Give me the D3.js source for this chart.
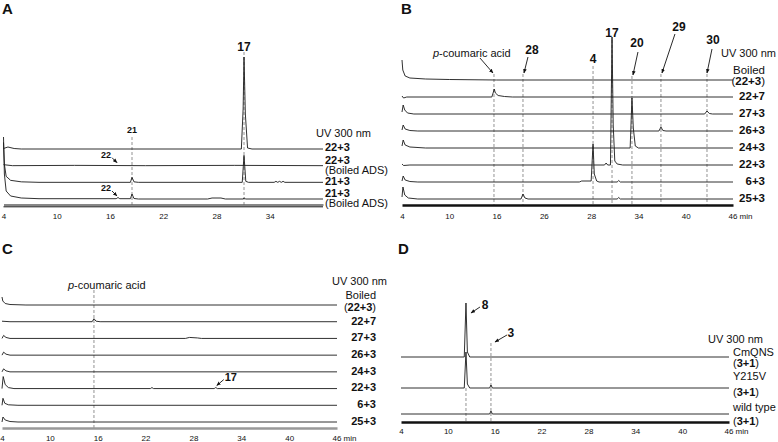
<!DOCTYPE html>
<html>
<head>
<meta charset="utf-8">
<script src="https://cdn.jsdelivr.net/npm/d3@7"></script>
<style>
  body { margin: 0; background: #fff; }
  text { font-family: "Liberation Sans", Arial, sans-serif; fill: #111; }
</style>
</head>
<body>
<div id="fig"></div>
<script>
// ---- data (time in min, signal in arbitrary units) ----
const ticksA = [4, 10, 16, 22, 28, 34];
const tickLabelsA = ["4", "10", "16", "22", "28", "34"];
const ticksBCD = [4, 10, 16, 22, 28, 34, 40, 46];
const tickLabelsB = ["4", "10", "16", "26", "28", "34", "40", "46 min"];
const tickLabelsCD = ["4", "10", "16", "22", "28", "34", "40", "46 min"];

// sample names, "|" splits lines, *...* is bold
const samplesA = ["*22+3*", "*22+3*|(Boiled ADS)", "*21+3*", "*21+3*|(Boiled ADS)"];
const samplesBC = ["Boiled|(*22+3*)", "*22+7*", "*27+3*", "*26+3*", "*24+3*", "*22+3*", "*6+3*", "*25+3*"];
const samplesD = ["CmQNS|(*3+1*)", "Y215V|(*3+1*)", "wild type|(*3+1*)"];

const signalsA = [
  [[4,0.5],[4.5,2],[5.2,0.5],[6,0],[30.8,0],[31.0,40],[31.1,92],[31.25,35],[31.5,1],[32,0],[40,0]],
  [[4,1],[5,0],[12,0.3],[20,0],[30,0.3],[40,0]],
  [[4,40],[4.1,18],[4.3,6],[4.8,2],[6,0.5],[8,0],[18.3,0],[18.48,5],[18.7,0.5],[19.2,0],[30.9,0],[31.1,27],[31.3,1],[31.6,0],
   [34.5,0],[34.7,1],[34.9,0],[35.1,1],[35.3,0],[35.5,1],[35.7,0],[40,0]],
  [[4,62],[4.1,25],[4.3,8],[4.8,3],[6,1],[8,0.3],[16.7,0.3],[16.9,1.5],[17.1,0.3],[18.3,0.3],[18.48,5],[18.7,0.5],[19.2,0],
   [27,0],[27.5,1],[28.5,1],[29,0],[31,0],[31.1,1],[31.3,0],[40,0]]
];
const signalsB = [
  [[4,20],[4.1,10],[4.4,4],[5,2],[7,1],[10,0.5],[16,0],[46,0]],
  [[4,1],[4.2,-1],[4.6,0],[15.4,0],[15.6,5],[15.7,8],[15.85,4],[16.2,1.5],[17,0.5],[18,0],[46,0]],
  [[4,2],[4.15,9],[4.35,4],[4.7,1],[5.5,0],[42.4,0],[42.7,3],[43,0.5],[43.4,0],[46,0]],
  [[4,1],[4.15,6],[4.4,2],[5,0.5],[6,0],[36.6,0],[36.86,4],[37.1,0.5],[37.5,0],[46,0]],
  [[4,2],[4.15,8],[4.4,3],[5,1],[7,0],[32.95,0],[33.18,50],[33.35,20],[33.6,2],[34,0],[46,0]],
  [[4,1],[4.2,-0.5],[5,0],[29.7,0],[29.9,2],[30.1,0],[30.45,0],[30.65,128],[30.8,40],[31.0,4],[31.3,1],[32,0],[46,0]],
  [[4,1],[4.15,6],[4.4,2],[5,0.5],[6,0],[26.5,0],[26.8,1],[28.0,1],[28.24,38],[28.4,8],[28.7,1],[29,0],
   [31.3,0],[31.5,1.5],[31.7,0],[46,0]],
  [[4,2],[4.12,12],[4.35,4],[4.8,1],[6,0],[19.1,0],[19.35,5],[19.6,1],[20,0],[31.3,0],[31.5,1.5],[31.7,0],[46,0]]
];
const signalsC = [
  [[4,8],[4.1,4],[4.4,1.5],[5,0.5],[7,0],[46,0]],
  [[4,0.5],[5,0],[15.3,0],[15.53,3],[15.8,0.5],[16.3,0],[46,0]],
  [[4,0],[4.2,3],[4.5,1],[5,0],[27,0],[27.5,1],[28.5,0.5],[29,0],[46,0]],
  [[4,0],[4.2,3],[4.5,1],[5,0],[46,0]],
  [[4,0],[4.2,3],[4.5,1],[5,0],[46,0]],
  [[4,0],[4.15,12],[4.4,4],[4.8,1],[5.5,0],[22.6,0],[22.8,1],[23,0],[30.6,0],[30.8,1],[31,0],[46,0]],
  [[4,0],[4.12,7],[4.35,2],[4.8,0.5],[6,0],[46,0]],
  [[4,0],[4.12,5],[4.4,2],[5,0.5],[6,0],[46,0]]
];
const signalsD = [
  [[4,0],[12.1,0],[12.32,54],[12.5,5],[12.8,0],[46,0]],
  [[4,0],[12.1,0],[12.32,36],[12.5,4],[12.8,0],[15.35,0],[15.52,3],[15.7,0],[46,0]],
  [[4,0],[15.35,0],[15.52,3],[15.7,0],[46,0]]
];

// marked peaks (retention times)
const marksA = [18.48, 31.1];
const marksB = [15.67, 19.35, 28.24, 30.65, 33.18, 36.86, 42.7];
const marksC = [15.53, 30.8];
const marksD = [12.32, 15.52];

// ---- drawing ----
const svg = d3.select("#fig").append("svg")
  .attr("width", 778).attr("height", 442);

svg.append("defs").append("marker")
  .attr("id", "ah").attr("viewBox", "0 0 10 10")
  .attr("refX", 9).attr("refY", 5)
  .attr("markerWidth", 5).attr("markerHeight", 5)
  .attr("orient", "auto")
  .append("path").attr("d", "M0,1 L10,5 L0,9 Z").attr("fill", "#111");

function richText(g, str, x, y, anchor, size) {
  const t = g.append("text").attr("x", x).attr("y", y).attr("dy", "0.35em")
    .attr("text-anchor", anchor).style("font-size", size + "px");
  str.split("*").forEach((s, i) => {
    if (s) t.append("tspan").attr("font-weight", i % 2 ? "bold" : "normal").text(s);
  });
  return t;
}

function panel(cfg) {
  const g = svg.append("g");
  const x = d3.scaleLinear().domain(cfg.domain).range(cfg.range);
  const y = cfg.baselines.length === cfg.names.length
    ? d3.scaleOrdinal().domain(cfg.names).range(cfg.baselines)
    : d3.scalePoint().domain(cfg.names).range(cfg.baselines);
  const amp = d3.scaleLinear().domain([0, 100]).range([0, 100]);

  // dashed marker lines
  cfg.marks.forEach((m, i) => {
    if (cfg.dashTop[i] == null) return;
    g.append("line")
      .attr("x1", x(m)).attr("x2", x(m))
      .attr("y1", cfg.dashTop[i]).attr("y2", cfg.axisY)
      .attr("stroke", "#777").attr("stroke-width", 0.8)
      .attr("stroke-dasharray", "3,2");
  });

  // traces
  cfg.names.forEach((n, i) => {
    const base = y(n);
    const line = d3.line().x(d => x(d[0])).y(d => base - amp(d[1]));
    g.append("path").datum(cfg.signals[i])
      .attr("d", line).attr("fill", "none")
      .attr("stroke", "#1a1a1a").attr("stroke-width", 0.9);

    const lines = n.split("|");
    const offs = lines.length > 1 ? (cfg.dy2[i] && cfg.dy2[i].length ? cfg.dy2[i] : cfg.dy2) : [cfg.dy1];
    lines.forEach((l, j) => richText(g, l, cfg.labelX, base + offs[j], cfg.anchor, cfg.fs || 11.5));
  });

  // axis
  const ax = g.append("g")
    .attr("transform", `translate(0,${cfg.axisY})`)
    .call(d3.axisBottom(x).tickValues(cfg.ticks).tickSize(0).tickSizeOuter(0)
      .tickPadding(cfg.pad).tickFormat((d, i) => cfg.tickLabels[i]));
  ax.select(".domain").attr("stroke", cfg.axisColor).attr("stroke-width", cfg.axisWidth);
  ax.selectAll(".tick text")
    .style("font-size", "8px").style("font-family", "Liberation Sans, Arial, sans-serif")
    .attr("fill", "#333");
  ax.selectAll(".tick text").filter(function() { return this.textContent.indexOf("min") > 0; })
    .attr("text-anchor", "start").attr("dx", -5);

  // UV label and panel letter
  g.append("text").attr("x", cfg.uv[0]).attr("y", cfg.uv[1]).attr("dy", "0.35em")
    .attr("text-anchor", cfg.uvAnchor).style("font-size", "11px").text("UV 300 nm");
  g.append("text").attr("x", cfg.letter[1]).attr("y", cfg.letter[2])
    .style("font-size", "15px").style("font-weight", "bold").text(cfg.letter[0]);

  return { g, x, y };
}

function arrow(g, x1, y1, x2, y2) {
  g.append("line").attr("x1", x1).attr("y1", y1).attr("x2", x2).attr("y2", y2)
    .attr("stroke", "#111").attr("stroke-width", 0.9).attr("marker-end", "url(#ah)");
}
function label(g, txt, x, y, size, bold, anchor) {
  return g.append("text").attr("x", x).attr("y", y).attr("dy", "0.35em")
    .attr("text-anchor", anchor || "middle").style("font-size", size + "px")
    .style("font-weight", bold ? "bold" : "normal").text(txt);
}
function coumaric(g, x, y) {
  const t = g.append("text").attr("x", x).attr("y", y).attr("dy", "0.35em").style("font-size", "11px");
  t.append("tspan").style("font-style", "italic").text("p");
  t.append("tspan").text("-coumaric acid");
}

// Panel A
const A = panel({
  names: samplesA, signals: signalsA, domain: [4, 40], range: [3.5, 323],
  baselines: [149, 199], axisY: 204.5, ticks: ticksA, tickLabels: tickLabelsA, pad: 9,
  axisColor: "#111", axisWidth: 1, labelX: 325, anchor: "start", dy1: -1.5, dy2: [-6, 4.5],
  uv: [316, 133], uvAnchor: "start", letter: ["A", 2, 14], fs: 11,
  marks: marksA, dashTop: [137, 52]
});
A.g.append("line").attr("x1", A.x(4)).attr("x2", A.x(40)).attr("y1", 206.8).attr("y2", 206.8)
  .attr("stroke", "#111").attr("stroke-width", 1);
label(A.g, "21", A.x(marksA[0]), 130, 9, true);
label(A.g, "17", A.x(marksA[1]), 47, 12, true);
[1, 3].forEach(i => {
  const b = A.y(samplesA[i]), xa = A.x(16.9);
  label(A.g, "22", xa - 12, b - 11, 9, true);
  arrow(A.g, xa - 6, b - 8, xa - 1, b - 3);
});

// Panel B
const B = panel({
  names: samplesBC, signals: signalsB, domain: [4, 46], range: [402, 733],
  baselines: [80, 199], axisY: 205, ticks: ticksBCD, tickLabels: tickLabelsB, pad: 8,
  axisColor: "#111", axisWidth: 2.5, labelX: 765, anchor: "end", dy1: -1, dy2: [-10, 1],
  uv: [776, 53], uvAnchor: "end", letter: ["B", 401, 14],
  marks: marksB, dashTop: [74, 74, 66, 40, 76, 74, 74]
});
{
  const xm = marksB.map(B.x);
  coumaric(B.g, xm[0] - 61, 53);
  arrow(B.g, xm[0] - 14, 58, xm[0] - 1, 73);
  label(B.g, "28", xm[1] + 9, 50, 12, true);
  arrow(B.g, xm[1] + 5, 57, xm[1] + 1, 73);
  label(B.g, "4", xm[2], 59, 12, true);
  label(B.g, "17", xm[3], 33, 12, true);
  label(B.g, "20", xm[4] + 5, 43, 12, true);
  arrow(B.g, xm[4] + 6, 52, xm[4] + 1, 75);
  label(B.g, "29", xm[5] + 18, 27, 12, true);
  arrow(B.g, xm[5] + 14, 34, xm[5] + 1, 73);
  label(B.g, "30", xm[6] + 6, 40, 12, true);
  arrow(B.g, xm[6] + 5, 49, xm[6], 73);
}

// Panel C
const C = panel({
  names: samplesBC, signals: signalsC, domain: [4, 46], range: [2, 337],
  baselines: [305, 422], axisY: 428, ticks: ticksBCD, tickLabels: tickLabelsCD, pad: 7,
  axisColor: "#999", axisWidth: 2.5, labelX: 376, anchor: "end", dy1: -1, dy2: [-9.5, 2],
  uv: [387, 281], uvAnchor: "end", letter: ["C", 2, 254], fs: 11,
  marks: marksC, dashTop: [290, null]
});
{
  const xm = C.x(marksC[1]), b = C.y(samplesBC[5]);
  coumaric(C.g, C.x(marksC[0]) - 26, 285);
  label(C.g, "17", xm + 15, b - 11, 11, true);
  arrow(C.g, xm + 8, b - 9, xm + 1, b - 3);
}

// Panel D
const D = panel({
  names: samplesD, signals: signalsD, domain: [4, 46], range: [401, 729],
  baselines: [357, 388, 414], axisY: 422, ticks: ticksBCD, tickLabels: tickLabelsCD, pad: 6,
  axisColor: "#111", axisWidth: 2.5, labelX: 733, anchor: "start", dy1: -1,
  dy2: [[-5, 6], [-12, 4], [-7, 7]],
  uv: [708, 339], uvAnchor: "start", letter: ["D", 398, 254], fs: 11,
  marks: marksD, dashTop: [388, 343]
});
{
  const x8 = D.x(marksD[0]), x3 = D.x(marksD[1]);
  label(D.g, "8", x8 + 19, 305, 12, true);
  arrow(D.g, x8 + 14, 307, x8 + 5, 313);
  label(D.g, "3", x3 + 20, 333, 12, true);
  arrow(D.g, x3 + 16, 335, x3 + 4, 342);
}
</script>
</body>
</html>
